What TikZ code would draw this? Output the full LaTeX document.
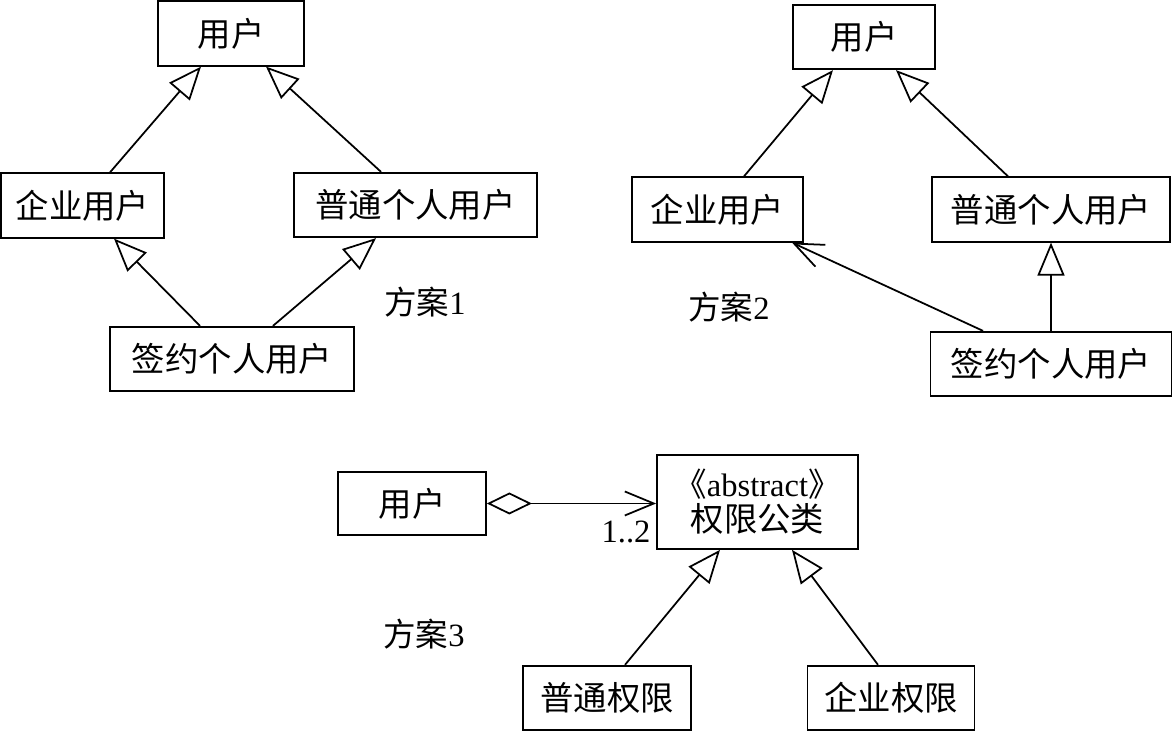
\documentclass[tikz,border=0pt]{standalone}
\usepackage{fontspec}
\setmainfont{Liberation Serif}
\newfontfamily\cjk{Noto Sans CJK SC}
\usetikzlibrary{arrows.meta}
\tikzset{
  cls/.style={draw, line width=1pt, minimum height=1.29cm, inner sep=0pt, font=\cjk\fontsize{19}{21}\selectfont},
  lbl/.style={inner sep=0pt, font=\fontsize{18.5}{21}\selectfont},
  gen/.style={line width=1pt, -{Triangle[open, length=0.66cm, width=0.54cm]}},
  nav/.style={line width=1pt, -{Straight Barb[length=0.58cm, width=0.48cm]}},
  agg/.style={line width=1pt, {Diamond[open, length=0.9cm, width=0.44cm]}-{Straight Barb[length=0.58cm, width=0.48cm]}}
}
\begin{document}
\begin{tikzpicture}
    \useasboundingbox (0,0) rectangle (23.46,14.62);
    \node (U1) at (4.62,13.95) [cls, minimum width=2.92cm] {用户};
    \node (E1) at (1.65,10.51) [cls, minimum width=3.26cm] {企业用户};
    \node (P1) at (8.31,10.52) [cls, minimum width=4.86cm] {普通个人用户};
    \node (S1) at (4.64,7.44) [cls, minimum width=4.88cm] {签约个人用户};
    \node (plan1) at (8.5,8.58) [lbl] {{\cjk 方案}1};
    \draw[gen] ([xshift=0.55cm]E1.north) -- ([xshift=-0.6cm]U1.south);
    \draw[gen] ([xshift=-0.69cm]P1.north) -- ([xshift=0.7cm]U1.south);
    \draw[gen] ([xshift=-0.64cm]S1.north) -- ([xshift=0.63cm]E1.south);
    \draw[gen] ([xshift=0.82cm]S1.north) -- ([xshift=-0.79cm]P1.south);

    \node (U2) at (17.28,13.88) [cls, minimum width=2.84cm] {用户};
    \node (E2) at (14.35,10.43) [cls, minimum width=3.42cm] {企业用户};
    \node (P2) at (21.02,10.43) [cls, minimum width=4.76cm] {普通个人用户};
    \node (S2) at (21.02,7.34) [cls, minimum width=4.82cm] {签约个人用户};
    \node (plan2) at (14.58,8.48) [lbl] {{\cjk 方案}2};
    \draw[gen] ([xshift=0.53cm]E2.north) -- ([xshift=-0.62cm]U2.south);
    \draw[gen] ([xshift=-0.86cm]P2.north) -- ([xshift=0.64cm]U2.south);
    \draw[gen] (S2.north) -- (P2.south);
    \draw[nav] ([xshift=-1.36cm]S2.north) -- ([xshift=1.49cm]E2.south);

    \node (U3) at (8.24,4.55) [cls, minimum width=2.96cm, minimum height=1.26cm] {用户};
    \node (A) at (15.15,4.58) [cls, minimum width=4.02cm, minimum height=1.88cm, align=center, font=\fontsize{18.5}{20}\selectfont] {{\cjk\hspace*{-0.5em}《}abstract{\cjk 》\hspace*{-0.5em}}\\{\cjk\fontsize{19}{20}\selectfont 权限公类}};
    \node (N3) at (12.14,0.66) [cls, minimum width=3.36cm] {普通权限};
    \node (Q3) at (17.82,0.66) [cls, minimum width=3.34cm] {企业权限};
    \node (plan3) at (8.48,1.94) [lbl] {{\cjk 方案}3};
    \node (mult) at (12.52,3.98) [lbl] {1..2};
    \draw[agg] (U3.east) -- (U3.east -| A.west);
    \draw[gen] ([xshift=0.36cm]N3.north) -- ([xshift=-0.75cm]A.south);
    \draw[gen] ([xshift=-0.26cm]Q3.north) -- ([xshift=0.69cm]A.south);
\end{tikzpicture}
\end{document}
